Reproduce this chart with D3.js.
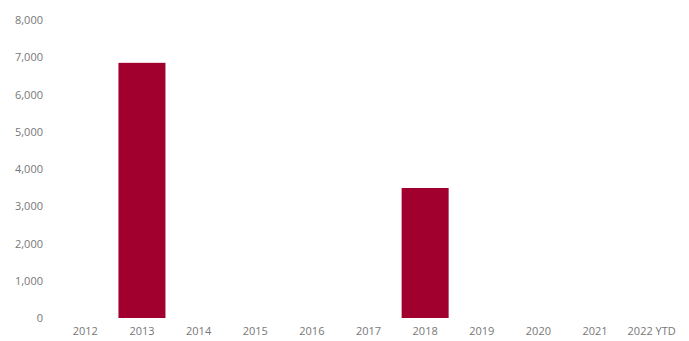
<!DOCTYPE html>
<html>
<head>
<meta charset="utf-8">
<script src="https://cdn.jsdelivr.net/npm/d3@7"></script>
<style>
  html, body { margin: 0; padding: 0; background: #fff; }
  svg { display: block; }
  .axis { color: #777; }
  .axis text { font-family: "Segoe UI", "Open Sans", sans-serif; font-size: 11px; fill: #777; }
</style>
</head>
<body>
<svg id="chart" width="689" height="341"></svg>
<script>
// Yearly totals
const years = ["2012", "2013", "2014", "2015", "2016", "2017", "2018", "2019", "2020", "2021", "2022 YTD"];
const values = [0, 6850, 0, 0, 0, 0, 3490, 0, 0, 0, 0];
const yTicks = [0, 1000, 2000, 3000, 4000, 5000, 6000, 7000, 8000];

const svg = d3.select("#chart");
const margin = { left: 57, right: 9, top: 20, bottom: 23 };
const W = 689, H = 341;

const x = d3.scaleBand()
  .domain(years)
  .range([margin.left, W - margin.right])
  .paddingInner(0.17)
  .paddingOuter(0.085);

const y = d3.scaleLinear()
  .domain([0, 8000])
  .range([H - margin.bottom, margin.top]);

// value axis
const yAxis = svg.append("g")
  .attr("class", "axis")
  .attr("transform", `translate(${margin.left - 14},0)`)
  .call(d3.axisLeft(y).tickValues(yTicks).tickFormat(d3.format(",")).tickSize(0).tickPadding(0));
yAxis.select(".domain").remove();

// category axis
const xAxis = svg.append("g")
  .attr("class", "axis")
  .attr("transform", `translate(0,${H - margin.bottom})`)
  .call(d3.axisBottom(x).tickSize(0).tickPadding(9));
xAxis.select(".domain").remove();

// bars
svg.append("g")
  .selectAll("rect")
  .data(years.map((yr, i) => ({ yr, v: values[i] })).filter(d => d.v > 0))
  .join("rect")
  .attr("x", d => x(d.yr))
  .attr("y", d => y(d.v))
  .attr("width", x.bandwidth())
  .attr("height", d => y(0) - y(d.v))
  .attr("fill", "#a1002f");
</script>
</body>
</html>
